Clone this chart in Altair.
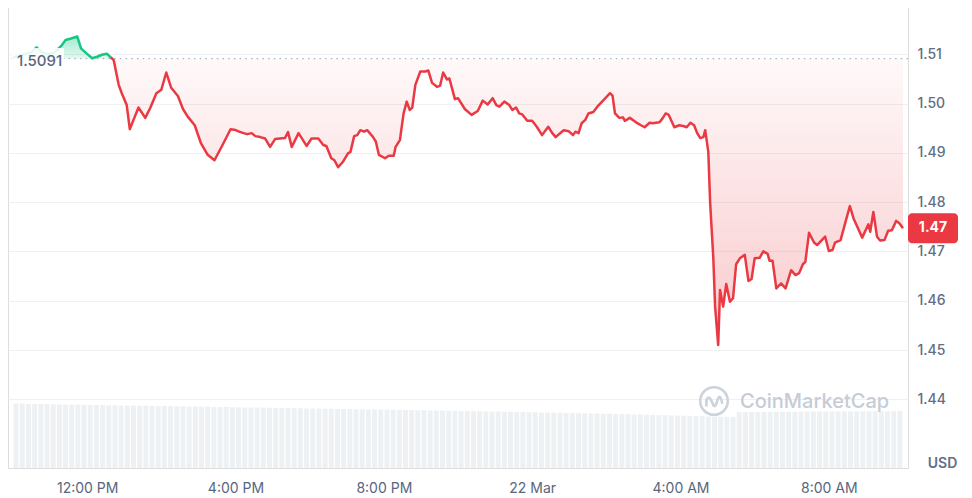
import altair as alt
import pandas as pd

# ---- data (minutes after 21 Mar 10:00, price in USD) ----
minutes = [0, 10, 19, 29, 38, 48, 58, 67, 78, 85, 94, 104, 110, 118, 128, 136, 144, 152, 158, 163,
           171, 176, 184, 189, 195, 203, 214, 222, 232, 240, 248, 256, 267, 275, 283, 294, 304, 315, 326, 339,
           352, 358, 366, 373, 379, 386, 392, 400, 408, 416, 424, 440, 445, 451, 462, 475, 483, 494, 502, 507,
           515, 520, 526, 534,
           542, 546, 552, 557, 562, 568, 573, 582, 587, 592, 602, 608, 616, 619, 626, 632, 637, 642, 646, 651,
           659, 667, 672, 678, 686, 691, 696, 702, 706, 715, 720, 731, 742, 752, 760, 768, 776, 782, 787, 795,
           803, 808, 814, 819, 824, 832, 840, 848, 856, 866, 872, 878, 891, 899, 906, 910, 915, 920, 926, 931,
           939, 947, 957, 966, 970, 974, 981, 987, 990, 998, 1008, 1016, 1022, 1030, 1035, 1046, 1051, 1056, 1061, 1070,
           1078, 1086, 1090, 1096, 1102, 1107, 1112, 1117, 1120, 1125, 1128, 1133, 1136, 1141, 1144, 1149, 1154, 1160, 1165, 1170,
           1176, 1184, 1190, 1195, 1200, 1208, 1214, 1221, 1224, 1229, 1235, 1243, 1250, 1259, 1266, 1272, 1278, 1282, 1288, 1296,
           1301, 1314, 1320, 1326, 1330, 1339, 1347, 1354, 1360, 1374, 1384, 1387, 1392, 1398, 1403, 1410, 1416, 1422, 1429, 1434,
           1440]

prices = [1.5094, 1.5097, 1.5100, 1.5104, 1.5114, 1.5103, 1.5100, 1.5104, 1.5117, 1.5129, 1.5132, 1.5136, 1.5112, 1.5103, 1.5092, 1.5095, 1.5099, 1.5101, 1.5094, 1.5088,
          1.5038, 1.5021, 1.4997, 1.4948, 1.4967, 1.4992, 1.4971, 1.4991, 1.5021, 1.5028, 1.5063, 1.5032, 1.5015, 1.4989, 1.4973, 1.4956, 1.4920, 1.4896, 1.4885, 1.4916,
          1.4948, 1.4947, 1.4943, 1.4940, 1.4938, 1.4940, 1.4934, 1.4932, 1.4929, 1.4912, 1.4928, 1.4930, 1.4942, 1.4912, 1.4940, 1.4914, 1.4929, 1.4929, 1.4916, 1.4914,
          1.4889, 1.4885, 1.4871, 1.4882,
          1.4899, 1.4902, 1.4934, 1.4936, 1.4946, 1.4943, 1.4946, 1.4933, 1.4923, 1.4896, 1.4889, 1.4894, 1.4894, 1.4912, 1.4926, 1.4980, 1.5004, 1.4987, 1.4992, 1.5038,
          1.5065, 1.5065, 1.5067, 1.5042, 1.5034, 1.5036, 1.5063, 1.5049, 1.5051, 1.5009, 1.5011, 1.4989, 1.4977, 1.4985, 1.5006, 1.4998, 1.5011, 1.4997, 1.4994, 1.5004,
          1.4997, 1.4987, 1.4992, 1.4980, 1.4978, 1.4965, 1.4965, 1.4952, 1.4936, 1.4953, 1.4941, 1.4932, 1.4946, 1.4944, 1.4936, 1.4943, 1.4940, 1.4960, 1.4967, 1.4980,
          1.4983, 1.4996, 1.5009, 1.5021, 1.5016, 1.4980, 1.4971, 1.4972, 1.4965, 1.4971, 1.4962, 1.4956, 1.4952, 1.4961, 1.4960, 1.4962, 1.4970, 1.4980, 1.4977, 1.4952,
          1.4956, 1.4954, 1.4952, 1.4961, 1.4956, 1.4940, 1.4930, 1.4932, 1.4946, 1.4902, 1.4798, 1.4689, 1.4588, 1.4510, 1.4622, 1.4588, 1.4634, 1.4598, 1.4605, 1.4674,
          1.4686, 1.4693, 1.4640, 1.4644, 1.4686, 1.4687, 1.4700, 1.4695, 1.4681, 1.4681, 1.4625, 1.4635, 1.4625, 1.4662, 1.4652, 1.4656, 1.4674, 1.4679, 1.4738, 1.4718,
          1.4713, 1.4730, 1.4701, 1.4703, 1.4718, 1.4723, 1.4760, 1.4792, 1.4767, 1.4728, 1.4755, 1.4740, 1.4780, 1.4730, 1.4722, 1.4723, 1.4742, 1.4743, 1.4762, 1.4757,
          1.4747]

base_price = 1.5091

# volume bars, one per 10 minutes (arbitrary units)
volumes = [64.5, 64.5, 64.0, 64.0, 64.0, 63.8, 63.8, 63.5, 63.5, 63.5, 63.3, 63.3,
           63.0, 63.0, 63.0, 62.8, 62.8, 62.5, 62.5, 62.5, 62.3, 62.3, 62.0, 62.0,
           62.0, 61.8, 61.8, 61.5, 61.5, 61.5, 61.3, 61.3, 61.0, 61.0, 61.0, 60.8,
           60.8, 60.5, 60.5, 60.5, 60.3, 60.3, 60.0, 60.0, 60.0, 59.8, 59.8, 59.5,
           59.5, 59.5, 59.3, 59.3, 59.0, 59.0, 59.0, 58.8, 58.8, 58.5, 58.5, 58.5,
           58.3, 58.3, 58.0, 58.0, 58.0, 57.8, 57.8, 57.5, 57.5, 57.5, 57.3, 57.3,
           57.0, 57.0, 56.8, 56.8, 56.5, 56.5, 56.5, 56.3, 56.3, 56.0, 56.0, 55.8,
           55.8, 55.5, 55.5, 55.3, 55.3, 55.0, 55.0, 54.8, 54.8, 54.5, 54.5, 54.3,
           54.3, 54.0, 54.0, 53.8, 53.5, 53.5, 53.3, 53.0, 53.0, 52.8, 52.5, 52.5,
           52.3, 52.0, 52.0, 51.8, 51.5, 51.5, 51.3, 51.0, 51.0, 56.0, 56.0, 56.0,
           56.0, 56.0, 56.2, 56.2, 56.2, 56.3, 56.3, 56.3, 56.5, 56.5, 56.5, 56.5,
           56.5, 56.6, 56.6, 56.6, 56.7, 56.7, 56.7, 56.8, 56.8, 56.8, 56.8, 57.0]

x_tick_hours = [12, 16, 20, 24, 28, 32]   # hours after 21 Mar 00:00

assert len(minutes) == len(prices)

RED = "#ea3943"
GREEN = "#16c784"
GREY = "#58667e"
FONT = "Inter"

start = pd.Timestamp("2025-03-21 10:00:00")
df = pd.DataFrame({
    "t": (start + pd.to_timedelta(minutes, unit="m")).strftime("%Y-%m-%dT%H:%M:%S"),
    "price": prices,
})
df["idx"] = range(len(df))
first_below = next(i for i, p in enumerate(prices) if p < base_price)
k = first_below - 1
n = len(df)

vol_df = pd.DataFrame({
    "t": (start + pd.Timedelta(minutes=5) + pd.to_timedelta([10 * i for i in range(len(volumes))], unit="m")).strftime("%Y-%m-%dT%H:%M:%S"),
    "vol": volumes,
})


def dt(h):
    d = 21 + h // 24
    return alt.DateTime(year=2025, month=3, date=d, hours=h % 24)


xscale = alt.Scale(domain=[dt(10), dt(34)], nice=False)
xaxis = alt.Axis(
    values=[dt(h) for h in x_tick_hours],
    labelExpr="hours(datum.value) == 0 ? timeFormat(datum.value, '%d %b') : timeFormat(datum.value, '%-I:%M %p')",
    domain=False, ticks=False, grid=False,
    labelFont=FONT, labelFontSize=14, labelColor=GREY, labelPadding=13,
    labelFlush=False, title=None,
)
xenc = alt.X("t:T", scale=xscale, axis=xaxis)

yscale = alt.Scale(domain=[1.42606, 1.52000], nice=False, zero=False)
yaxis = alt.Axis(
    orient="right", values=[1.44, 1.45, 1.46, 1.47, 1.48, 1.49, 1.50, 1.51], format=".2f",
    grid=True, gridColor="#eef0f3", domain=False, ticks=False,
    labelFont=FONT, labelFontSize=14, labelFontWeight=500, labelColor="#616e85", labelPadding=9,
    title="USD", titleAngle=0, titleX=34, titleY=458, titleAlign="center", titleBaseline="middle",
    titleFont=FONT, titleFontSize=14, titleFontWeight=600, titleColor="#616e85",
)

base = alt.Chart(df)

red_grad = alt.LinearGradient(
    gradient="linear", x1=0, x2=0, y1=0, y2=1,
    stops=[alt.GradientStop(color="rgba(234,57,67,0.03)", offset=0),
           alt.GradientStop(color="rgba(234,57,67,0.27)", offset=1)],
)
green_grad = alt.LinearGradient(
    gradient="linear", x1=0, x2=0, y1=0, y2=1,
    stops=[alt.GradientStop(color="rgba(22,199,132,0.38)", offset=0),
           alt.GradientStop(color="rgba(22,199,132,0.12)", offset=1)],
)

red_area = base.transform_calculate(
    lo=f"min(datum.price, {base_price})", b=f"{base_price}"
).mark_area(color=red_grad).encode(
    x=xenc, y=alt.Y("lo:Q", scale=yscale, axis=yaxis), y2="b:Q"
)

green_area = base.transform_calculate(
    hi=f"max(datum.price, {base_price})", b=f"{base_price}"
).mark_area(color=green_grad).encode(
    x=xenc, y=alt.Y("hi:Q", scale=yscale, axis=yaxis), y2="b:Q"
)

baseline = alt.Chart(pd.DataFrame({"b": [base_price]})).mark_rule(
    color="#a9b2c2", strokeDash=[1.5, 4.2], strokeWidth=1.2
).encode(y=alt.Y("b:Q", scale=yscale, axis=yaxis))

red_line = base.transform_filter(f"datum.idx >= {k}").mark_line(
    color=RED, strokeWidth=2.5, strokeJoin="round"
).encode(x=xenc, y=alt.Y("price:Q", scale=yscale, axis=yaxis))

green_line = base.transform_filter(f"datum.idx <= {k}").mark_line(
    color=GREEN, strokeWidth=2.5, strokeJoin="round"
).encode(x=xenc, y=alt.Y("price:Q", scale=yscale, axis=yaxis))

label_df = pd.DataFrame({"b": [base_price], "txt": [f"{base_price:.4f}"]})
label_box = alt.Chart(label_df).transform_calculate(
    top="datum.b + 0.0022", bot="datum.b - 0.0024"
).mark_rect(color="white", opacity=0.88).encode(
    x=alt.value(4), x2=alt.value(56),
    y=alt.Y("top:Q", scale=yscale, axis=yaxis), y2="bot:Q",
)
label_txt = alt.Chart(label_df).mark_text(
    align="left", baseline="middle", font=FONT, fontSize=15, fontWeight=500, color=GREY, dy=2
).encode(x=alt.value(9), y=alt.Y("b:Q", scale=yscale, axis=yaxis), text="txt:N")

badge = base.transform_filter(f"datum.idx == {n - 1}").transform_calculate(
    top="datum.price + 0.00304", bot="datum.price - 0.00304"
).mark_rect(color=RED, cornerRadius=4).encode(
    x=alt.value(900), x2=alt.value(950),
    y=alt.Y("top:Q", scale=yscale, axis=yaxis), y2="bot:Q",
)
badge_txt = base.transform_filter(f"datum.idx == {n - 1}").mark_text(
    align="center", baseline="middle", font=FONT, fontSize=14, fontWeight="bold", color="white"
).encode(
    x=alt.value(925), y=alt.Y("price:Q", scale=yscale, axis=yaxis),
    text=alt.Text("price:Q", format=".2f"),
)

wm_df = pd.DataFrame({"name": ["CoinMarketCap"]})
wm_circle = alt.Chart(wm_df).mark_point(
    shape="circle", size=760, filled=False, color="#cdd3dc", strokeWidth=2.6, opacity=1
).encode(x=alt.value(706), y=alt.value(396))
wm_wave = alt.Chart(wm_df).mark_point(
    shape="M -0.55 0.4 L -0.55 -0.05 Q -0.4 -0.45 -0.2 -0.05 L -0.05 0.3 Q 0.1 0.5 0.2 0.1 L 0.3 -0.2 Q 0.45 -0.45 0.55 -0.05 L 0.6 0.2",
    size=760, filled=False, color="#cdd3dc", strokeWidth=2.6, opacity=1
).encode(x=alt.value(706), y=alt.value(396))
wm_text = alt.Chart(wm_df).mark_text(
    align="left", baseline="middle", font=FONT, fontSize=20, fontWeight=500, color="#c6ccd6"
).encode(x=alt.value(732), y=alt.value(397), text="name:N")

vol = alt.Chart(vol_df).mark_bar(color="#eef1f4", width=5).encode(
    x=xenc,
    y=alt.Y("vol:Q", scale=alt.Scale(domain=[0, 463], nice=False), axis=None),
)

price_layers = alt.layer(
    red_area, green_area, baseline, red_line, green_line,
    label_box, label_txt, wm_circle, wm_wave, wm_text, badge, badge_txt,
)

chart = alt.layer(vol, price_layers).resolve_scale(y="independent").properties(
    width=900, height=463,
    autosize=alt.AutoSizeParams(type="none"),
    padding={"left": 0, "top": -3, "right": 56, "bottom": 30},
).configure_view(stroke="#eceff3", strokeWidth=1).configure(background="white")

chart.save("out.html", embed_options={"renderer": "svg", "actions": False})
